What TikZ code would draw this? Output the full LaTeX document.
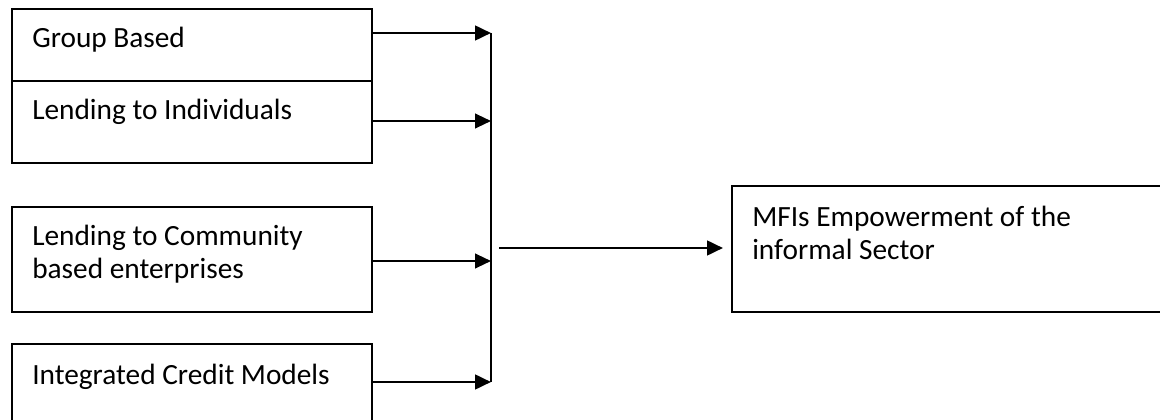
\documentclass[tikz,border=0pt]{standalone}
\usepackage{fontspec}
\setmainfont{Carlito}
\usetikzlibrary{arrows.meta, positioning}
\tikzset{
    box/.style={draw, line width=1.3pt, anchor=north west, inner sep=0pt, minimum width=270pt}, % framed box, text placed apart
    lbl/.style={inner sep=0pt, align=left, font=\fontsize{22}{24.75}\selectfont}, % box text
    feed/.style={line width=1.6pt, -{Triangle[length=12pt, width=11pt]}}, % arrows into the bus
    heavy/.style={line width=2pt},
    bus/.style={line width=1.3pt},
}

\begin{document}
\begin{tikzpicture}[x=0.75pt, y=-0.75pt]
    \useasboundingbox (0,0) rectangle (1160,420);

    % left column of lending models
    \node[box, minimum height=54pt] (gb) at (11,8) {};
    \node[box, minimum height=61.5pt] (ind) at (11,80) {};
    \node[box, minimum height=78.75pt] (com) at (11,206) {};
    \node[box, minimum height=61.5pt] (icm) at (11,343) {};
    \node[box, minimum width=329pt, minimum height=94.5pt] (mfi) at (731,185) {};

    \node[lbl, below right=14.5pt and 15.75pt of gb.north west] (gbt) {Group Based};
    \node[lbl, below right=14.5pt and 15.75pt of ind.north west] (indt) {Lending to Individuals};
    \node[lbl, below right=14.5pt and 15.75pt of com.north west] (comt) {Lending to Community\\based enterprises};
    \node[lbl, below right=16pt and 15.75pt of icm.north west] (icmt) {Integrated Credit Models};
    \node[lbl, below right=15.5pt and 15.75pt of mfi.north west] (mfit) {MFIs Empowerment of the\\informal Sector};

    % bus
    \coordinate (j1) at (491,33);
    \coordinate (j2) at (491,121);
    \coordinate (j3) at (491,261);
    \coordinate (j4) at (491,382);
    \coordinate (m) at (499,248);

    \draw[bus] (j1) -- (j4);
    \draw[feed, heavy] (gb.east |- j1) -- (j1);
    \draw[feed] (ind.east |- j2) -- (j2);
    \draw[feed] (com.east |- j3) -- (j3);
    \draw[feed, heavy] (icm.east |- j4) -- (j4);
    \draw[feed, heavy, shorten >=6pt] (m) -- (m -| mfi.west);
\end{tikzpicture}
\end{document}
